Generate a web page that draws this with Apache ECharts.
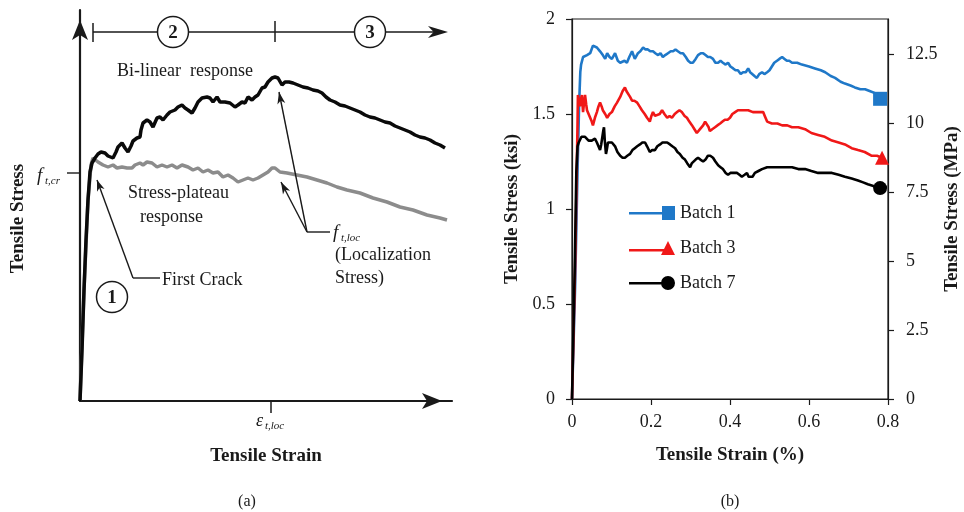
<!DOCTYPE html>
<html><head><meta charset="utf-8">
<script src="https://cdn.jsdelivr.net/npm/echarts@6/dist/echarts.min.js"></script>
<style>html,body{margin:0;padding:0;background:#fff}#c{width:964px;height:512px}</style>
</head><body><div id="c"></div>
<script>
// ---------- Panel (a): schematic curves (arbitrary units) ----------
const bilinearResponse = [
[0,0],[2,51],[4,111],[6,161],[8,201],[10,229],[12,238],[15,243],[18,247],[21,249],[25,248],[28,245],[33,243],[36,249],[38,254],[42,258],[45,253],[48,249],[51,255],[53,260],[57,263],[60,264],[61,271],[63,278],[67,281],[70,279],[73,274],[77,283],[80,284],[83,281],[87,286],[90,289],[95,291],[98,294],[102,296],[105,293],[108,291],[112,288],[115,293],[118,299],[122,303],[127,304],[130,303],[133,299],[137,304],[140,299],[145,299],[150,298],[155,294],[158,296],[162,299],[165,298],[168,304],[172,301],[175,304],[178,306],[182,313],[185,314],[188,319],[192,323],[195,324],[198,323],[202,316],[205,319],[209,319],[213,318],[218,316],[223,314],[228,313],[233,311],[238,310],[242,308],[246,304],[250,301],[255,299],[260,296],[265,295],[270,293],[275,291],[280,289],[285,286],[290,284],[295,283],[300,281],[305,279],[310,278],[315,275],[320,273],[325,271],[330,269],[335,266],[340,264],[345,263],[350,261],[355,258],[360,256],[365,253]
];
const plateauResponse = [
[0,0],[4,111],[8,201],[11,236],[13,243],[18,239],[23,236],[28,234],[33,236],[37,233],[42,234],[47,233],[52,233],[55,236],[60,238],[63,236],[67,239],[72,238],[77,234],[82,236],[87,234],[92,236],[97,233],[102,236],[108,234],[113,231],[118,233],[123,229],[128,231],[133,228],[138,229],[143,224],[148,226],[153,223],[158,219],[163,221],[168,223],[173,221],[178,223],[183,226],[188,229],[192,233],[195,233],[200,229],[207,228],[217,226],[227,224],[237,221],[247,218],[257,214],[267,211],[280,208],[293,203],[307,199],[320,194],[333,191],[347,186],[360,183],[367,181]
];

// ---------- Panel (b): measured curves (strain %, stress ksi) ----------
const batch1 = [
[0,0],[0.008,0.6],[0.014,1.2],[0.018,1.55],[0.021,1.72],[0.023,1.76],[0.028,1.80],[0.033,1.79],[0.038,1.81],[0.046,1.82],[0.053,1.86],[0.058,1.87],[0.063,1.85],[0.071,1.83],[0.078,1.81],[0.084,1.79],[0.089,1.82],[0.095,1.80],[0.101,1.79],[0.109,1.82],[0.116,1.78],[0.122,1.77],[0.127,1.76],[0.133,1.78],[0.139,1.77],[0.145,1.80],[0.152,1.83],[0.159,1.79],[0.167,1.82],[0.173,1.83],[0.18,1.85],[0.186,1.84],[0.192,1.84],[0.198,1.83],[0.205,1.83],[0.211,1.82],[0.218,1.81],[0.224,1.82],[0.23,1.80],[0.236,1.81],[0.243,1.82],[0.25,1.83],[0.256,1.83],[0.262,1.84],[0.268,1.83],[0.275,1.82],[0.281,1.82],[0.288,1.80],[0.294,1.78],[0.3,1.77],[0.306,1.77],[0.313,1.79],[0.319,1.81],[0.326,1.82],[0.332,1.82],[0.338,1.81],[0.344,1.80],[0.35,1.80],[0.357,1.79],[0.363,1.77],[0.37,1.77],[0.376,1.78],[0.382,1.77],[0.389,1.76],[0.395,1.77],[0.401,1.75],[0.408,1.74],[0.414,1.73],[0.42,1.73],[0.427,1.71],[0.433,1.72],[0.44,1.72],[0.446,1.74],[0.451,1.72],[0.456,1.72],[0.462,1.70],[0.468,1.69],[0.474,1.71],[0.481,1.72],[0.487,1.71],[0.494,1.72],[0.5,1.73],[0.506,1.75],[0.512,1.77],[0.519,1.78],[0.525,1.79],[0.532,1.80],[0.538,1.79],[0.544,1.78],[0.55,1.78],[0.557,1.77],[0.57,1.77],[0.582,1.76],[0.6,1.75],[0.615,1.74],[0.63,1.73],[0.641,1.72],[0.655,1.70],[0.666,1.69],[0.68,1.67],[0.691,1.66],[0.705,1.65],[0.716,1.64],[0.73,1.63],[0.742,1.63],[0.755,1.62],[0.767,1.61],[0.78,1.58]
];
const batch3 = [
[0,0],[0.008,0.7],[0.012,1.2],[0.014,1.45],[0.015,1.60],[0.018,1.57],[0.02,1.54],[0.023,1.58],[0.025,1.60],[0.028,1.51],[0.03,1.55],[0.033,1.60],[0.036,1.55],[0.038,1.52],[0.042,1.50],[0.046,1.48],[0.05,1.46],[0.053,1.44],[0.058,1.48],[0.063,1.51],[0.067,1.54],[0.071,1.56],[0.075,1.54],[0.078,1.52],[0.084,1.50],[0.089,1.48],[0.095,1.50],[0.101,1.51],[0.108,1.54],[0.114,1.56],[0.122,1.59],[0.128,1.62],[0.134,1.64],[0.138,1.62],[0.142,1.61],[0.147,1.59],[0.152,1.57],[0.158,1.57],[0.165,1.56],[0.171,1.54],[0.177,1.52],[0.184,1.50],[0.19,1.48],[0.197,1.46],[0.201,1.49],[0.205,1.51],[0.21,1.49],[0.215,1.48],[0.222,1.50],[0.228,1.52],[0.234,1.50],[0.241,1.48],[0.247,1.49],[0.253,1.48],[0.26,1.50],[0.266,1.51],[0.272,1.52],[0.278,1.51],[0.285,1.49],[0.291,1.48],[0.297,1.46],[0.304,1.44],[0.31,1.42],[0.316,1.40],[0.32,1.41],[0.324,1.42],[0.328,1.43],[0.332,1.44],[0.337,1.46],[0.342,1.47],[0.346,1.43],[0.349,1.41],[0.355,1.42],[0.362,1.43],[0.368,1.44],[0.375,1.45],[0.381,1.46],[0.387,1.47],[0.394,1.47],[0.4,1.48],[0.406,1.50],[0.413,1.51],[0.42,1.52],[0.433,1.52],[0.446,1.52],[0.458,1.51],[0.471,1.51],[0.484,1.51],[0.488,1.49],[0.494,1.46],[0.506,1.45],[0.52,1.45],[0.532,1.44],[0.545,1.44],[0.557,1.43],[0.573,1.43],[0.59,1.42],[0.606,1.40],[0.623,1.39],[0.64,1.38],[0.658,1.36],[0.675,1.35],[0.691,1.34],[0.708,1.32],[0.724,1.31],[0.741,1.30],[0.759,1.28],[0.772,1.28],[0.785,1.27]
];
const batch7 = [
[0,0],[0.007,0.7],[0.011,1.2],[0.014,1.33],[0.017,1.35],[0.02,1.36],[0.024,1.38],[0.028,1.39],[0.033,1.38],[0.038,1.37],[0.042,1.36],[0.046,1.35],[0.05,1.36],[0.053,1.36],[0.058,1.37],[0.063,1.35],[0.067,1.33],[0.071,1.31],[0.074,1.34],[0.076,1.35],[0.079,1.41],[0.081,1.43],[0.083,1.36],[0.086,1.29],[0.088,1.31],[0.091,1.35],[0.096,1.35],[0.101,1.35],[0.105,1.34],[0.109,1.33],[0.115,1.30],[0.122,1.28],[0.128,1.27],[0.134,1.27],[0.14,1.28],[0.147,1.29],[0.153,1.31],[0.159,1.32],[0.165,1.33],[0.172,1.34],[0.178,1.35],[0.185,1.35],[0.19,1.33],[0.197,1.30],[0.203,1.31],[0.21,1.31],[0.216,1.33],[0.223,1.34],[0.229,1.35],[0.235,1.35],[0.241,1.35],[0.248,1.34],[0.254,1.33],[0.261,1.32],[0.267,1.30],[0.273,1.29],[0.28,1.27],[0.286,1.26],[0.292,1.24],[0.299,1.22],[0.303,1.24],[0.306,1.25],[0.313,1.26],[0.319,1.27],[0.325,1.26],[0.332,1.25],[0.338,1.26],[0.344,1.28],[0.35,1.28],[0.357,1.27],[0.363,1.25],[0.37,1.23],[0.376,1.22],[0.382,1.21],[0.389,1.19],[0.395,1.18],[0.401,1.19],[0.408,1.19],[0.413,1.18],[0.418,1.19],[0.424,1.18],[0.43,1.17],[0.437,1.18],[0.443,1.19],[0.447,1.17],[0.451,1.16],[0.457,1.17],[0.463,1.19],[0.472,1.20],[0.481,1.21],[0.494,1.22],[0.506,1.22],[0.519,1.22],[0.532,1.22],[0.545,1.22],[0.557,1.22],[0.573,1.21],[0.59,1.21],[0.606,1.20],[0.623,1.19],[0.64,1.19],[0.658,1.19],[0.675,1.18],[0.691,1.17],[0.708,1.16],[0.724,1.15],[0.737,1.14],[0.749,1.13],[0.765,1.12],[0.78,1.11]
];
const seriesNames = ['Batch 1','Batch 3','Batch 7'];
const ksiTicks = [0, 0.5, 1, 1.5, 2];
const mpaTicks = [0, 2.5, 5, 7.5, 10, 12.5];
const strainTicks = [0, 0.2, 0.4, 0.6, 0.8];
const KSI_TO_MPA = 6.894757;

const SERIF = '"Liberation Serif","Times New Roman",serif';
const INK = '#1a1a1a';
const BLUE = '#1f78c8', RED = '#f01818', BLACK = '#000000', GRAY = '#8c8c8c';

function withEndSymbol(arr, symbol, size) {
  return arr.map((p, i) => i === arr.length - 1 ? {value: p, symbol: symbol, symbolSize: size} : p);
}

const chart = echarts.init(document.getElementById('c'), null, {renderer: 'canvas'});

const arrowAxisLine = {
  show: true, symbol: ['none', 'arrow'], symbolSize: [12, 20], symbolOffset: [0, -10],
  lineStyle: {color: INK, width: 2.2}
};

const option = {
  animation: false,
  backgroundColor: '#fff',
  textStyle: {fontFamily: SERIF},
  grid: [
    {left: 80, top: 10, width: 372, height: 391},
    {left: 572, top: 19, width: 316, height: 380, show: true, borderColor: INK, borderWidth: 1.2}
  ],
  xAxis: [
    {gridIndex: 0, type: 'value', min: 0, max: 372,
     axisLine: arrowAxisLine, axisTick: {show: false}, axisLabel: {show: false}, splitLine: {show: false},
     name: 'Tensile Strain', nameLocation: 'middle', nameGap: 46,
     nameTextStyle: {fontFamily: SERIF, fontWeight: 'bold', fontSize: 19, color: INK}},
    {gridIndex: 1, type: 'value', min: 0, max: 0.8, interval: 0.2,
     axisLine: {show: true, lineStyle: {color: INK, width: 1.2}},
     axisTick: {show: true, inside: false, length: 6, lineStyle: {color: INK, width: 1.2}},
     axisLabel: {fontFamily: SERIF, fontSize: 18, color: INK, margin: 14,
                 customValues: strainTicks},
     splitLine: {show: false},
     name: 'Tensile Strain (%)', nameLocation: 'middle', nameGap: 47,
     nameTextStyle: {fontFamily: SERIF, fontWeight: 'bold', fontSize: 19, color: INK}}
  ],
  yAxis: [
    {gridIndex: 0, type: 'value', min: 0, max: 391,
     axisLine: arrowAxisLine, axisTick: {show: false}, axisLabel: {show: false}, splitLine: {show: false},
     name: 'Tensile Stress', nameLocation: 'middle', nameGap: 52,
     nameTextStyle: {fontFamily: SERIF, fontWeight: 'bold', fontSize: 19, color: INK, padding: [0, 26, 0, 0]}},
    {gridIndex: 1, type: 'value', min: 0, max: 2, interval: 0.5, position: 'left',
     axisLine: {show: true, lineStyle: {color: INK, width: 1.2}},
     axisTick: {show: true, inside: false, length: 6, lineStyle: {color: INK, width: 1.2}},
     axisLabel: {fontFamily: SERIF, fontSize: 18, color: INK, margin: 17, customValues: ksiTicks},
     splitLine: {show: false},
     name: 'Tensile Stress (ksi)', nameLocation: 'middle', nameGap: 50,
     nameTextStyle: {fontFamily: SERIF, fontWeight: 'bold', fontSize: 19, color: INK}},
    {gridIndex: 1, type: 'value', min: 0, max: 2 * KSI_TO_MPA, position: 'right',
     axisLine: {show: true, lineStyle: {color: INK, width: 1.2}},
     axisTick: {show: true, inside: false, length: 6, lineStyle: {color: INK, width: 1.2}, customValues: mpaTicks},
     axisLabel: {fontFamily: SERIF, fontSize: 18, color: INK, margin: 18, customValues: mpaTicks},
     splitLine: {show: false},
     name: 'Tensile Stress (MPa)', nameLocation: 'middle', nameGap: 55,
     nameTextStyle: {fontFamily: SERIF, fontWeight: 'bold', fontSize: 19, color: INK}}
  ],
  legend: {
    orient: 'vertical', left: 624, top: 199, itemGap: 17, itemWidth: 46, itemHeight: 14,
    selectedMode: false,
    itemStyle: {borderWidth: 0},
    textStyle: {fontFamily: SERIF, fontSize: 18, color: INK},
    data: [
      {name: 'Batch 1', icon: 'path://M0,6 L36,6 L36,8.6 L0,8.6 Z M33,0 L46,0 L46,14 L33,14 Z'},
      {name: 'Batch 3', icon: 'path://M0,8 L36,8 L36,10.6 L0,10.6 Z M32,14 L39,0 L46,14 Z'},
      {name: 'Batch 7', icon: 'path://M0,6 L36,6 L36,8.6 L0,8.6 Z M32,7 A7,7 0 1,1 46,7 A7,7 0 1,1 32,7 Z'}
    ]
  },
  series: [
    {type: 'line', xAxisIndex: 0, yAxisIndex: 0, data: plateauResponse, showSymbol: false, symbol: 'none',
     clip: false, silent: true, lineStyle: {color: GRAY, width: 3.5}, z: 2},
    {type: 'line', xAxisIndex: 0, yAxisIndex: 0, data: bilinearResponse, showSymbol: false, symbol: 'none',
     clip: false, silent: true, lineStyle: {color: '#0a0a0a', width: 3.5}, z: 3},
    {name: seriesNames[0], type: 'line', xAxisIndex: 1, yAxisIndex: 1, color: BLUE,
     data: withEndSymbol(batch1, 'rect', 14), symbol: 'none', showSymbol: true, clip: false, silent: true,
     itemStyle: {color: BLUE, borderWidth: 0}, lineStyle: {color: BLUE, width: 2.6}, z: 3},
    {name: seriesNames[1], type: 'line', xAxisIndex: 1, yAxisIndex: 1, color: RED,
     data: withEndSymbol(batch3, 'triangle', 14), symbol: 'none', showSymbol: true, clip: false, silent: true,
     itemStyle: {color: RED, borderWidth: 0}, lineStyle: {color: RED, width: 2.6}, z: 4},
    {name: seriesNames[2], type: 'line', xAxisIndex: 1, yAxisIndex: 1, color: BLACK,
     data: withEndSymbol(batch7, 'circle', 14), symbol: 'none', showSymbol: true, clip: false, silent: true,
     itemStyle: {color: BLACK, borderWidth: 0}, lineStyle: {color: BLACK, width: 2.6}, z: 5}
  ]
};
chart.setOption(option);

// ---------- annotations for panel (a), placed in its data coordinates ----------
const P = (x, y) => chart.convertToPixel({gridIndex: 0}, [x, y]);
const Q = (x, y) => chart.convertToPixel({gridIndex: 1}, [x, y]);
function seg(a, b, w) {
  return {type: 'line', z: 10, shape: {x1: a[0], y1: a[1], x2: b[0], y2: b[1]}, style: {stroke: INK, lineWidth: w || 1.4}};
}
function head(tip, from, len, half) {
  const dx = tip[0] - from[0], dy = tip[1] - from[1], L = Math.hypot(dx, dy);
  const ux = dx / L, uy = dy / L;
  const bx = tip[0] - ux * len, by = tip[1] - uy * len;
  const nx = tip[0] - ux * len * 0.72, ny = tip[1] - uy * len * 0.72;
  return {type: 'polygon', z: 11, shape: {points: [tip, [bx - uy * half, by + ux * half], [nx, ny], [bx + uy * half, by - ux * half]]},
          style: {fill: INK}};
}
function txt(p, s, o) {
  o = o || {};
  return {type: 'text', z: 12, x: p[0], y: p[1], style: {
    text: s, fill: INK, fontFamily: SERIF, fontSize: o.size || 18, fontStyle: o.italic ? 'italic' : 'normal',
    fontWeight: o.bold ? 'bold' : 'normal', align: o.align || 'left', verticalAlign: 'middle'}};
}
function circ(p, r, label) {
  return [
    {type: 'circle', z: 12, shape: {cx: p[0], cy: p[1], r: r}, style: {fill: '#fff', stroke: INK, lineWidth: 1.5}},
    {type: 'text', z: 13, x: p[0], y: p[1] + 1, style: {text: label, fill: INK, fontFamily: SERIF, fontSize: 19, fontWeight: 'bold', align: 'center', verticalAlign: 'middle'}}
  ];
}

const g = [];
// phase bar
g.push(seg(P(13, 369), P(360, 369), 1.5));
g.push(head(P(368, 369), P(300, 369), 20, 6));
g.push(seg(P(13, 378), P(13, 359), 1.5));
g.push(seg(P(195, 380), P(195, 359), 1.5));
g.push(...circ(P(93, 369), 15.5, '2'));
g.push(...circ(P(290, 369), 15.5, '3'));
g.push(...circ(P(32, 104), 15.5, '1'));
// curve labels
g.push(txt(P(105, 330), 'Bi-linear  response', {align: 'center'}));
g.push(txt(P(48, 208), 'Stress-plateau'));
g.push(txt(P(60, 184), 'response'));
// first crack
g.push(seg(P(53, 123), P(17, 221)));
g.push(head(P(17, 221), P(53, 123), 11, 4));
g.push(seg(P(53, 123), P(80, 123)));
g.push(txt(P(82, 121), 'First Crack'));
// f_t,cr
g.push(seg(P(-13, 228), P(0, 228)));
g.push(txt(P(-43, 225), 'f', {italic: true, size: 19}));
g.push(txt(P(-35, 220), 't,cr', {italic: true, size: 11}));
// localization
g.push(seg(P(227, 169), P(199, 309)));
g.push(head(P(199, 309), P(227, 169), 12, 4));
g.push(seg(P(227, 169), P(201, 219)));
g.push(head(P(201, 219), P(227, 169), 12, 4));
g.push(seg(P(227, 169), P(250, 169)));
g.push(txt(P(253, 168), 'f', {italic: true, size: 19}));
g.push(txt(P(261, 163), 't,loc', {italic: true, size: 11}));
g.push(txt(P(255, 146), '(Localization'));
g.push(txt(P(255, 123), 'Stress)'));
// strain at localization
g.push(seg(P(191, 0), P(191, -12), 1.5));
g.push(txt(P(176, -20), 'ε', {italic: true, size: 18}));
g.push(txt(P(185, -25), 't,loc', {italic: true, size: 11}));
// panel captions
g.push(txt([P(167, 0)[0], 502], '(a)', {align: 'center', size: 16}));
g.push(txt([Q(0.4, 0)[0], 502], '(b)', {align: 'center', size: 16}));

chart.setOption({graphic: {elements: g}});
</script></body></html>
